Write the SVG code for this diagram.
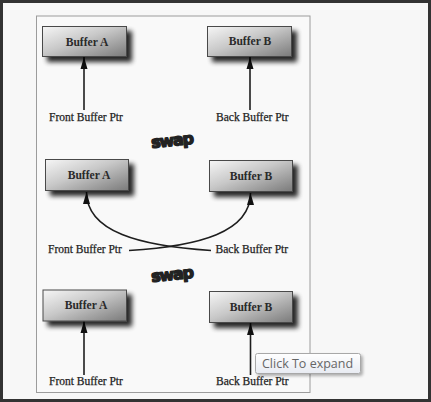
<svg xmlns="http://www.w3.org/2000/svg" width="431" height="402" viewBox="0 0 431 402">
<style>
.box{fill:url(#bg);stroke:#4a4a4a;stroke-width:1}
.bl{font-family:"Liberation Serif",serif;font-size:11.6px;font-weight:bold;fill:#2a2a2a;text-anchor:middle}
.pl{font-family:"Liberation Serif",serif;font-size:11.5px;fill:#1e1e1e;stroke:#1e1e1e;stroke-width:0.25}
.ln{fill:none;stroke:#1e1e1e;stroke-width:1.6}
.sw{font-family:"DejaVu Sans",sans-serif;font-size:16px;font-weight:bold;fill:#222;stroke:#222;stroke-width:1.4;stroke-linejoin:round;letter-spacing:-1.2px}
</style>
<defs>
<linearGradient id="bg" x1="0" y1="0" x2="1" y2="1">
<stop offset="0" stop-color="#f6f6f6"/>
<stop offset="0.45" stop-color="#c8c8c8"/>
<stop offset="1" stop-color="#7a7a7a"/>
</linearGradient>
<filter id="sh" x="-20%" y="-30%" width="150%" height="180%">
<feGaussianBlur in="SourceAlpha" stdDeviation="2.6"/>
<feOffset dx="5" dy="5" result="b"/>
<feComponentTransfer><feFuncA type="linear" slope="0.85"/></feComponentTransfer>
<feMerge><feMergeNode/><feMergeNode in="SourceGraphic"/></feMerge>
</filter>
<filter id="ts" x="-10%" y="-20%" width="130%" height="160%">
<feGaussianBlur in="SourceAlpha" stdDeviation="1.5"/>
<feOffset dx="2" dy="2"/>
<feComponentTransfer><feFuncA type="linear" slope="0.3"/></feComponentTransfer>
<feMerge><feMergeNode/><feMergeNode in="SourceGraphic"/></feMerge>
</filter>
<linearGradient id="tg" x1="0" y1="0" x2="0" y2="1">
<stop offset="0" stop-color="#ffffff"/>
<stop offset="1" stop-color="#e8ebf2"/>
</linearGradient>
<marker id="ah" viewBox="0 0 12 8" refX="12" refY="4" markerWidth="12" markerHeight="8" markerUnits="userSpaceOnUse" orient="auto">
<path d="M0,0.5 L12,4 L0,7.5 Z" fill="#111"/>
</marker>
</defs>
<rect x="0" y="0" width="431" height="402" fill="#333"/>
<rect x="3" y="3" width="425" height="396" fill="#f7f7f7"/>
<rect x="36.5" y="16" width="273.5" height="376.5" fill="#f9f9f9" stroke="#9c9c9c" stroke-width="1"/>

<g id="connectors">
<path class="ln" d="M84,110 L84,57" marker-end="url(#ah)"/>
<path class="ln" d="M250,110 L250,57" marker-end="url(#ah)"/>
<path class="ln" d="M211,250.5 C140,246 86.5,232 86.5,192" marker-end="url(#ah)"/>
<path class="ln" d="M129,250.5 C200,246 250.5,232 250.5,193" marker-end="url(#ah)"/>
<path class="ln" d="M84,375 L84,321" marker-end="url(#ah)"/>
<path class="ln" d="M250.5,375 L250.5,323" marker-end="url(#ah)"/>
</g>

<g id="a1"><rect class="box" x="42.5" y="26.5" width="84" height="30" filter="url(#sh)"/><text class="bl" x="87" y="45.5">Buffer A</text></g>
<g id="b1"><rect class="box" x="207.5" y="26.5" width="84" height="30" filter="url(#sh)"/><text class="bl" x="250" y="45">Buffer B</text></g>
<g id="fp1"><text class="pl" x="49" y="121">Front Buffer Ptr</text></g>
<g id="bp1"><text class="pl" x="216" y="121">Back Buffer Ptr</text></g>
<g id="swap1"><text class="sw" x="151" y="146" transform="rotate(-6 171 140)">swap</text></g>

<g id="a2"><rect class="box" x="45.5" y="159.5" width="83" height="31" filter="url(#sh)"/><text class="bl" x="89" y="179">Buffer A</text></g>
<g id="b2"><rect class="box" x="209.5" y="160.5" width="83" height="31" filter="url(#sh)"/><text class="bl" x="251" y="179.5">Buffer B</text></g>
<g id="fp2"><text class="pl" x="48" y="253">Front Buffer Ptr</text></g>
<g id="bp2"><text class="pl" x="215.5" y="253">Back Buffer Ptr</text></g>
<g id="swap2"><text class="sw" x="151" y="280" transform="rotate(-6 171 274)">swap</text></g>

<g id="a3"><rect class="box" x="43" y="290" width="83.5" height="31" filter="url(#sh)"/><text class="bl" x="86" y="309">Buffer A</text></g>
<g id="b3"><rect class="box" x="209.5" y="291.5" width="83" height="31" filter="url(#sh)"/><text class="bl" x="251" y="310.5">Buffer B</text></g>
<g id="fp3"><text class="pl" x="49" y="385">Front Buffer Ptr</text></g>
<g id="bp3"><text class="pl" x="216" y="385">Back Buffer Ptr</text></g>

<g id="tooltip">
<rect x="255.5" y="353.5" width="105" height="20" rx="2" fill="url(#tg)" stroke="#a8a8a8" stroke-width="1" filter="url(#ts)"/>
<text x="262" y="368" font-family="'Open Sans','DejaVu Sans',sans-serif" font-size="12.5" fill="#666">Click To expand</text>
</g>
</svg>
